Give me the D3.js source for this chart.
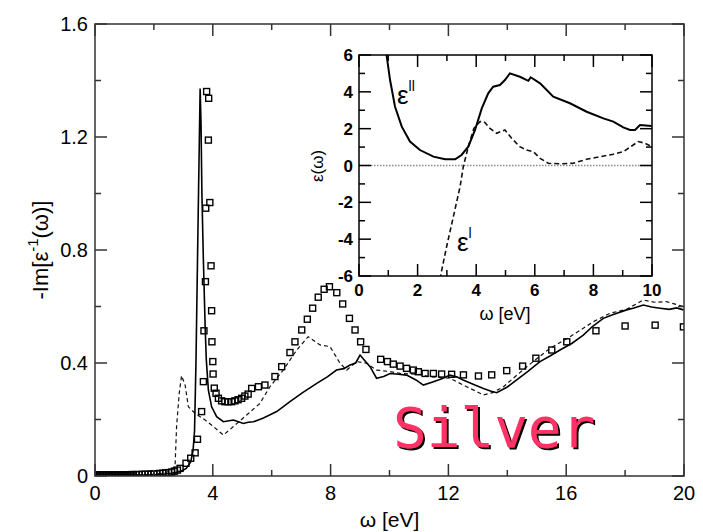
<!DOCTYPE html>
<html>
<head>
<meta charset="utf-8">
<script src="https://cdn.jsdelivr.net/npm/d3@7"></script>
<style>
  body { margin: 0; background: #fff; }
  text { font-family: "Liberation Sans", Arial, Helvetica, sans-serif; }
  text.title { font-family: "DejaVu Sans Mono", monospace; }
</style>
</head>
<body>
<div id="container"></div>
<script>
      //Width and height
      var w = 703;
      var h = 532;

      //Main panel: loss function -Im[1/eps]
      var mainXTicks = [0, 4, 8, 12, 16, 20];
      var mainYTicks = [0, 0.4, 0.8, 1.2, 1.6];

      var solidX = [0, 0.5, 1.0, 1.5, 2.0, 2.3, 2.6, 2.9, 3.1, 3.25, 3.33, 3.38, 3.43, 3.5, 3.57, 3.6, 3.63, 3.68, 3.74, 3.78, 3.85, 3.96, 4.13, 4.36, 4.7, 5.04, 5.2, 5.38, 5.72, 6.17, 6.62, 7.05, 7.53, 7.9, 8.2, 8.45, 8.66, 8.85, 9.0, 9.15, 9.34, 9.56, 9.8, 10.02, 10.3, 10.58, 10.9, 11.15, 11.49, 11.8, 12.05, 12.3, 12.5, 12.9, 13.19, 13.45, 13.64, 14.0, 14.32, 14.7, 15.11, 15.45, 15.79, 16.2, 16.58, 16.9, 17.26, 17.6, 18.05, 18.3, 18.62, 18.9, 19.19, 19.5, 19.75, 19.98];
      var solidY = [0.002, 0.002, 0.003, 0.003, 0.004, 0.006, 0.010, 0.016, 0.027, 0.05, 0.09, 0.16, 0.41, 0.9, 1.372, 1.25, 1.0, 0.765, 0.529, 0.41, 0.304, 0.245, 0.21, 0.192, 0.198, 0.186, 0.19, 0.192, 0.205, 0.228, 0.263, 0.295, 0.328, 0.352, 0.375, 0.38, 0.393, 0.4, 0.428, 0.41, 0.387, 0.346, 0.352, 0.363, 0.36, 0.357, 0.34, 0.322, 0.334, 0.345, 0.357, 0.35, 0.34, 0.322, 0.31, 0.3, 0.295, 0.315, 0.34, 0.37, 0.405, 0.425, 0.446, 0.47, 0.499, 0.53, 0.558, 0.572, 0.588, 0.595, 0.605, 0.598, 0.594, 0.59, 0.595, 0.588];

      var dashX = [0, 0.5, 1, 1.5, 2, 2.3, 2.5, 2.62, 2.72, 2.77, 2.86, 2.94, 3.06, 3.17, 3.4, 3.74, 4.02, 4.36, 4.7, 5.15, 5.6, 5.94, 6.39, 6.85, 7.24, 7.64, 7.98, 8.32, 8.55, 8.88, 9.22, 9.56, 10.0, 10.36, 11.0, 11.38, 12.05, 12.62, 13.19, 13.5, 13.87, 14.66, 15.45, 16.13, 16.92, 17.49, 18.05, 18.62, 19.0, 19.41, 19.98];
      var dashY = [0.002, 0.002, 0.003, 0.004, 0.006, 0.01, 0.016, 0.025, 0.04, 0.175, 0.293, 0.355, 0.322, 0.245, 0.222, 0.198, 0.175, 0.145, 0.175, 0.216, 0.257, 0.316, 0.375, 0.446, 0.493, 0.464, 0.458, 0.399, 0.375, 0.405, 0.399, 0.375, 0.37, 0.363, 0.36, 0.351, 0.346, 0.316, 0.287, 0.295, 0.316, 0.387, 0.452, 0.493, 0.546, 0.576, 0.59, 0.623, 0.615, 0.617, 0.60];

      var expX = [0.0, 0.05, 0.1, 0.15, 0.2, 0.25, 0.3, 0.35, 0.4, 0.45, 0.5, 0.55, 0.6, 0.65, 0.7, 0.75, 0.8, 0.85, 0.9, 0.95, 1.0, 1.05, 1.1, 1.15, 1.2, 1.25, 1.3, 1.4, 1.5, 1.6, 1.7, 1.8, 1.9, 2.0, 2.1, 2.2, 2.3, 2.4, 2.5, 2.6, 2.7, 2.8, 2.89, 3.09, 3.25, 3.40, 3.48, 3.62, 3.68, 3.70, 3.75, 3.76, 3.79, 3.86, 3.85, 3.90, 3.94, 3.96, 3.97, 4.0, 4.01, 4.05, 4.11, 4.19, 4.30, 4.41, 4.52, 4.64, 4.75, 4.86, 4.98, 5.09, 5.2, 5.32, 5.55, 5.77, 6.11, 6.34, 6.62, 6.79, 7.02, 7.21, 7.39, 7.58, 7.78, 7.96, 8.21, 8.41, 8.64, 8.83, 9.02, 9.20, 9.70, 9.93, 10.13, 10.36, 10.58, 10.81, 10.98, 11.21, 11.49, 11.77, 12.11, 12.51, 13.02, 13.47, 13.98, 14.52, 14.97, 15.51, 16.02, 17.01, 18.0, 19.02, 19.98];
      var expY = [0.003, 0.003, 0.003, 0.003, 0.003, 0.003, 0.003, 0.003, 0.003, 0.003, 0.003, 0.003, 0.003, 0.003, 0.003, 0.003, 0.003, 0.003, 0.004, 0.004, 0.004, 0.004, 0.004, 0.004, 0.004, 0.005, 0.005, 0.005, 0.005, 0.006, 0.006, 0.006, 0.007, 0.007, 0.008, 0.009, 0.010, 0.011, 0.012, 0.014, 0.017, 0.021, 0.027, 0.045, 0.063, 0.082, 0.13, 0.228, 0.334, 0.514, 0.688, 0.948, 1.361, 1.337, 1.189, 0.968, 0.744, 0.585, 0.475, 0.405, 0.361, 0.311, 0.293, 0.275, 0.266, 0.263, 0.263, 0.263, 0.266, 0.27, 0.275, 0.283, 0.29, 0.31, 0.316, 0.322, 0.352, 0.387, 0.437, 0.475, 0.517, 0.555, 0.594, 0.633, 0.661, 0.67, 0.649, 0.609, 0.558, 0.517, 0.475, 0.448, 0.413, 0.405, 0.396, 0.389, 0.381, 0.375, 0.369, 0.363, 0.363, 0.361, 0.36, 0.358, 0.354, 0.358, 0.373, 0.389, 0.417, 0.446, 0.475, 0.514, 0.531, 0.534, 0.528];

      //Inset: dielectric function
      var insetXTicks = [0, 2, 4, 6, 8, 10];
      var insetYTicks = [-6, -4, -2, 0, 2, 4, 6];

      var epsImX = [0.85, 0.94, 1.06, 1.23, 1.46, 1.74, 2.08, 2.54, 2.94, 3.28, 3.5, 3.73, 3.96, 4.19, 4.41, 4.58, 4.81, 4.98, 5.15, 5.49, 5.78, 5.86, 6.18, 6.63, 7.2, 7.77, 8.34, 8.68, 9.02, 9.25, 9.42, 9.59, 9.99];
      var epsImY = [7.5, 6.0, 4.64, 3.19, 2.11, 1.3, 0.84, 0.48, 0.34, 0.34, 0.57, 1.02, 1.93, 3.1, 3.92, 4.28, 4.37, 4.64, 5.0, 4.82, 4.6, 4.79, 4.46, 3.74, 3.38, 2.92, 2.56, 2.38, 2.07, 1.93, 1.93, 2.2, 2.14];

      var epsReX = [2.7, 2.79, 2.99, 3.22, 3.45, 3.56, 3.73, 3.92, 4.13, 4.27, 4.47, 4.7, 4.98, 5.21, 5.49, 5.72, 5.95, 6.18, 6.46, 6.86, 7.31, 7.77, 8.23, 8.68, 9.02, 9.31, 9.53, 9.76, 9.99];
      var epsReY = [-6.6, -5.94, -4.41, -2.78, -1.15, -0.06, 1.02, 2.02, 2.38, 2.38, 2.02, 1.75, 1.93, 1.48, 1.02, 0.84, 0.75, 0.39, 0.12, 0.09, 0.12, 0.34, 0.48, 0.61, 0.75, 1.06, 1.3, 1.21, 1.02];

      function zip(xs, ys) {
        return xs.map(function(x, i) { return [x, ys[i]]; });
      }

      //Create SVG
      var svg = d3.select("#container")
            .append("svg")
            .attr("width", w)
            .attr("height", h);

      var defs = svg.append("defs");

      // ---------- main panel ----------
      var x = d3.scaleLinear().domain([0, 20]).range([95, 684]);
      var y = d3.scaleLinear().domain([0, 1.6]).range([476, 24]);

      var line = d3.line()
            .x(function(d) { return x(d[0]); })
            .y(function(d) { return y(d[1]); });

      defs.append("clipPath").attr("id", "mainClip")
        .append("rect").attr("x", 95).attr("y", 24).attr("width", 589).attr("height", 452);

      var plot = svg.append("g").attr("clip-path", "url(#mainClip)");

      plot.append("path")
        .datum(zip(dashX, dashY))
        .attr("d", line)
        .attr("fill", "none")
        .attr("stroke", "#111")
        .attr("stroke-width", 1.2)
        .attr("stroke-dasharray", "4,3");

      plot.append("path")
        .datum(zip(solidX, solidY))
        .attr("d", line)
        .attr("fill", "none")
        .attr("stroke", "#000")
        .attr("stroke-width", 1.6);

      plot.selectAll("rect.sq")
        .data(zip(expX, expY))
        .enter()
        .append("rect")
        .attr("class", "sq")
        .attr("x", function(d) { return x(d[0]) - 3; })
        .attr("y", function(d) { return y(d[1]) - 3; })
        .attr("width", 6)
        .attr("height", 6)
        .attr("fill", "none")
        .attr("stroke", "#000")
        .attr("stroke-width", 1.4);

      //axes, ticks inward on all four sides
      function tickAxes(g, xs, ys, xMajor, yMajor, xMinor, yMinor, major, minor) {
        var x0 = xs.range()[0], x1 = xs.range()[1];
        var y0 = ys.range()[0], y1 = ys.range()[1];
        xMajor.concat(xMinor).forEach(function(v) {
          var len = xMajor.indexOf(v) >= 0 ? major : minor;
          g.append("line").attr("x1", xs(v)).attr("x2", xs(v)).attr("y1", y0).attr("y2", y0 - len);
          g.append("line").attr("x1", xs(v)).attr("x2", xs(v)).attr("y1", y1).attr("y2", y1 + len);
        });
        yMajor.concat(yMinor).forEach(function(v) {
          var len = yMajor.indexOf(v) >= 0 ? major : minor;
          g.append("line").attr("y1", ys(v)).attr("y2", ys(v)).attr("x1", x0).attr("x2", x0 + len);
          g.append("line").attr("y1", ys(v)).attr("y2", ys(v)).attr("x1", x1).attr("x2", x1 - len);
        });
        g.append("rect").attr("x", x0).attr("y", y1).attr("width", x1 - x0).attr("height", y0 - y1)
          .attr("fill", "none");
      }

      var mainAxes = svg.append("g").attr("stroke", "#333").attr("stroke-width", 1.5);
      tickAxes(mainAxes, x, y, mainXTicks, mainYTicks, [2, 6, 10, 14, 18], [0.2, 0.6, 1.0, 1.4], 12, 6);

      svg.append("g").selectAll("text")
        .data(mainXTicks).enter().append("text")
        .attr("x", function(d) { return x(d); })
        .attr("y", 500)
        .attr("text-anchor", "middle")
        .attr("font-size", 20)
        .text(function(d) { return d; });

      svg.append("g").selectAll("text")
        .data(mainYTicks).enter().append("text")
        .attr("x", 88)
        .attr("y", function(d) { return y(d) + 7; })
        .attr("text-anchor", "end")
        .attr("font-size", 20)
        .text(function(d) { return d === 0 ? "0" : d3.format(".1f")(d); });

      svg.append("text")
        .attr("x", 389.5).attr("y", 527)
        .attr("text-anchor", "middle")
        .attr("font-size", 21)
        .text("ω [eV]");

      var yl = svg.append("text")
        .attr("transform", "translate(48,250) rotate(-90)")
        .attr("text-anchor", "middle")
        .attr("font-size", 22);
      yl.append("tspan").text("-Im[ε");
      yl.append("tspan").attr("dy", -10).attr("font-size", 15).text("-1");
      yl.append("tspan").attr("dy", 10).text("(ω)]");

      // ---------- inset ----------
      var ix = d3.scaleLinear().domain([0, 10]).range([359, 652]);
      var iy = d3.scaleLinear().domain([-6, 6]).range([276, 55]);

      var iline = d3.line()
            .x(function(d) { return ix(d[0]); })
            .y(function(d) { return iy(d[1]); });

      svg.append("rect").attr("x", 359).attr("y", 55).attr("width", 293).attr("height", 221).attr("fill", "#fff");

      defs.append("clipPath").attr("id", "insetClip")
        .append("rect").attr("x", 359).attr("y", 55).attr("width", 293).attr("height", 221);

      var inset = svg.append("g").attr("clip-path", "url(#insetClip)");

      inset.append("line")
        .attr("x1", ix(0)).attr("x2", ix(10))
        .attr("y1", iy(0)).attr("y2", iy(0))
        .attr("stroke", "#888")
        .attr("stroke-width", 1.5)
        .attr("stroke-dasharray", "1.5,1.5");

      inset.append("path")
        .datum(zip(epsReX, epsReY))
        .attr("d", iline)
        .attr("fill", "none")
        .attr("stroke", "#111")
        .attr("stroke-width", 1.6)
        .attr("stroke-dasharray", "5,3");

      inset.append("path")
        .datum(zip(epsImX, epsImY))
        .attr("d", iline)
        .attr("fill", "none")
        .attr("stroke", "#000")
        .attr("stroke-width", 2);

      var insetAxes = svg.append("g").attr("stroke", "#000").attr("stroke-width", 1.5);
      tickAxes(insetAxes, ix, iy, insetXTicks, insetYTicks, [1, 3, 5, 7, 9], [-5, -3, -1, 1, 3, 5], 12, 6);

      svg.append("g").selectAll("text")
        .data(insetXTicks).enter().append("text")
        .attr("x", function(d) { return ix(d); })
        .attr("y", 296)
        .attr("text-anchor", "middle")
        .attr("font-size", 17)
        .attr("font-weight", "bold")
        .text(function(d) { return d; });

      svg.append("g").selectAll("text")
        .data(insetYTicks).enter().append("text")
        .attr("x", 353)
        .attr("y", function(d) { return iy(d) + 6; })
        .attr("text-anchor", "end")
        .attr("font-size", 17)
        .attr("font-weight", "bold")
        .text(function(d) { return d; });

      svg.append("text")
        .attr("x", 505).attr("y", 320)
        .attr("text-anchor", "middle")
        .attr("font-size", 18)
        .text("ω [eV]");

      svg.append("text")
        .attr("transform", "translate(323,166) rotate(-90)")
        .attr("text-anchor", "middle")
        .attr("font-size", 17)
        .text("ε(ω)");

      var e2 = svg.append("text").attr("x", 397).attr("y", 104).attr("font-size", 26);
      e2.append("tspan").text("ε");
      e2.append("tspan").attr("dy", -13).attr("font-size", 14).text("ll");

      var e1 = svg.append("text").attr("x", 457).attr("y", 251).attr("font-size", 26);
      e1.append("tspan").text("ε");
      e1.append("tspan").attr("dy", -13).attr("font-size", 14).text("l");

      // ---------- title with drop shadow ----------
      var shadow = defs.append("filter").attr("id", "shadow")
        .attr("x", "-5%").attr("y", "-5%").attr("width", "115%").attr("height", "120%");
      shadow.append("feOffset").attr("in", "SourceAlpha").attr("dx", 2).attr("dy", 2).attr("result", "off");
      var merge = shadow.append("feMerge");
      merge.append("feMergeNode").attr("in", "off");
      merge.append("feMergeNode").attr("in", "SourceGraphic");

      svg.append("text")
        .attr("class", "title")
        .attr("x", 393).attr("y", 447)
        .attr("font-size", 56)
        .attr("fill", "#ff3366")
        .attr("filter", "url(#shadow)")
        .text("Silver");
</script>
</body>
</html>
